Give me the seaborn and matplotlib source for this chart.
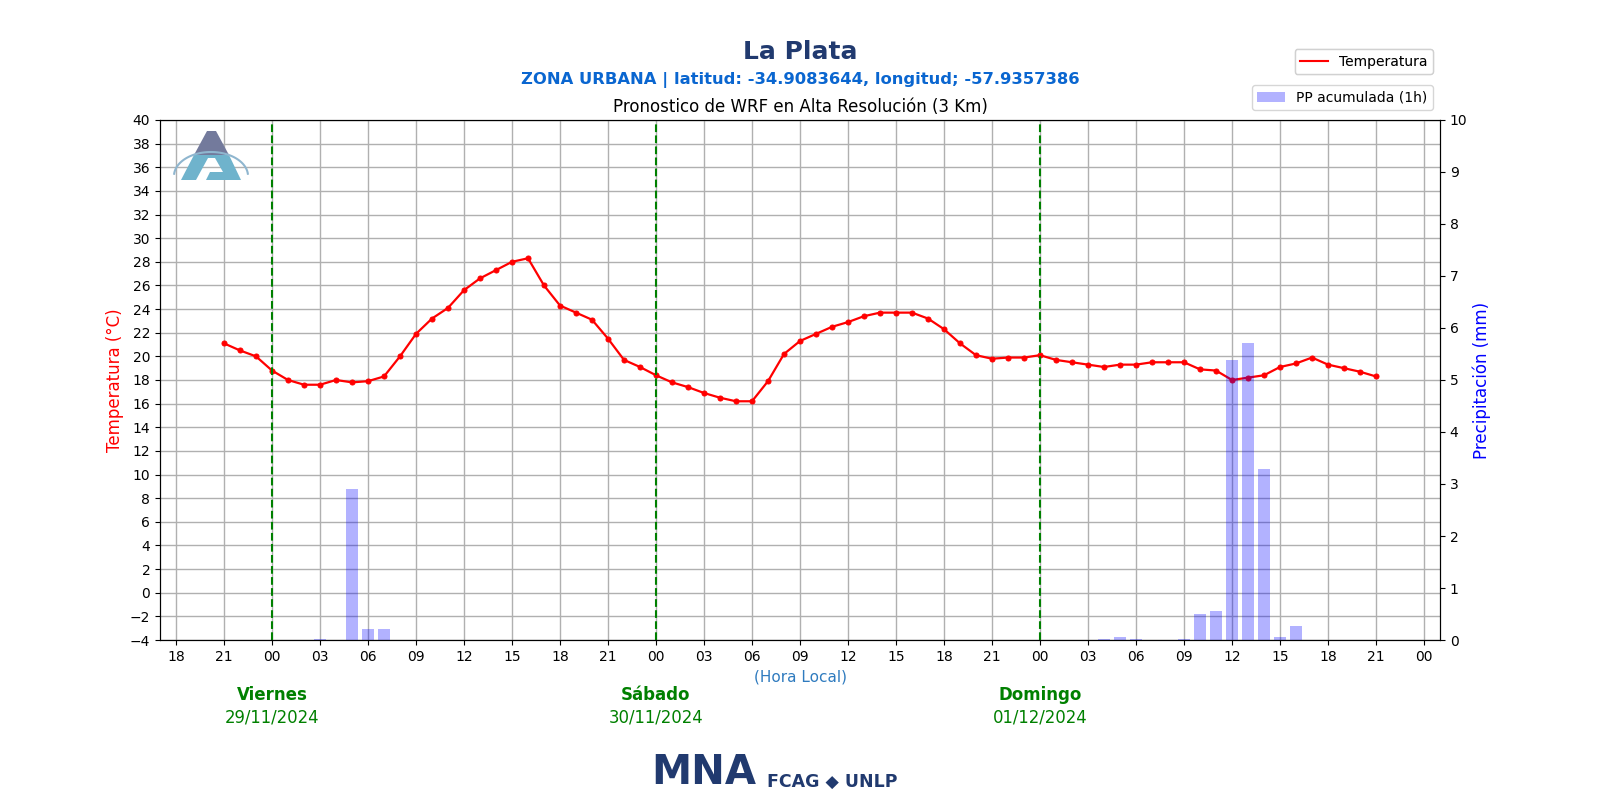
import numpy as np
import pandas as pd
import matplotlib
matplotlib.use("Agg")
import matplotlib.pyplot as plt
from matplotlib.lines import Line2D
from matplotlib.patches import Patch, Polygon
import seaborn as sns

# ---- data (hours relative to Friday 29/11/2024 00:00 local) ----
hours = list(range(-3, 70))
temperature = [
    21.1, 20.5, 20.0,                                   # Thu 21-23
    18.8, 18.0, 17.6, 17.6, 18.0, 17.8, 17.9, 18.3,     # Fri 00-07
    20.0, 21.9, 23.2, 24.1, 25.6, 26.6, 27.3, 28.0,     # Fri 08-15
    28.3, 26.0, 24.3, 23.7, 23.1, 21.5, 19.7, 19.1,     # Fri 16-23
    18.4, 17.8, 17.4, 16.9, 16.5, 16.2, 16.2, 17.9,     # Sat 00-07
    20.2, 21.3, 21.9, 22.5, 22.9, 23.4, 23.7, 23.7,     # Sat 08-15
    23.7, 23.2, 22.3, 21.1, 20.1, 19.8, 19.9, 19.9,     # Sat 16-23
    20.1, 19.7, 19.5, 19.3, 19.1, 19.3, 19.3, 19.5,     # Sun 00-07
    19.5, 19.5, 18.9, 18.8, 18.0, 18.2, 18.4, 19.1,     # Sun 08-15
    19.4, 19.9, 19.3, 19.0, 18.7, 18.3,                 # Sun 16-21
]
precipitation = [
    0, 0, 0,
    0, 0, 0, 0.02, 0, 2.9, 0.21, 0.21,
    0, 0, 0, 0, 0, 0, 0, 0,
    0, 0, 0, 0, 0, 0, 0, 0,
    0, 0, 0, 0, 0, 0, 0, 0,
    0, 0, 0, 0, 0, 0, 0, 0,
    0, 0, 0, 0, 0, 0, 0, 0,
    0, 0, 0, 0, 0.02, 0.05, 0.02, 0,
    0, 0.02, 0.5, 0.56, 5.38, 5.71, 3.29, 0.06,
    0.27, 0, 0, 0, 0, 0,
]
tick_hours = list(range(-6, 73, 3))
tick_labels = ["18", "21"] + ["00", "03", "06", "09", "12", "15", "18", "21"] * 3 + ["00"]
day_hours = [0, 24, 48]
day_names = ["Viernes", "Sábado", "Domingo"]
day_dates = ["29/11/2024", "30/11/2024", "01/12/2024"]

title_main = "La Plata"
title_sub = "ZONA URBANA | latitud: -34.9083644, longitud; -57.9357386"
title_axes = "Pronostico de WRF en Alta Resolución (3 Km)"

df = pd.DataFrame({"hora": hours, "temp": temperature, "pp": precipitation})

# ---- figure ----
fig = plt.figure(figsize=(16, 8), dpi=100)
ax = fig.add_axes([0.1, 0.2, 0.8, 0.65])
ax2 = ax.twinx()

ax.set_zorder(1)
ax.patch.set_visible(False)
ax2.set_zorder(2)

sns.lineplot(data=df, x="hora", y="temp", ax=ax, color="red", linewidth=1.6,
             marker="o", markersize=3.6, markeredgecolor="red", legend=False)
ax2.bar(df["hora"], df["pp"], width=0.75, color="blue", alpha=0.3, zorder=2)

for d in day_hours:
    ax.axvline(d, color="green", linestyle="--", linewidth=1.5, zorder=3)

ax.set_xlim(-7, 73)
ax.set_ylim(-4, 40)
ax.set_yticks(np.arange(-4, 41, 2))
ax.set_xticks(tick_hours)
ax.set_xticklabels(tick_labels, fontsize=10)
ax.tick_params(axis="y", labelsize=10)
ax.grid(True, color="#b0b0b0", linewidth=1)
ax.set_axisbelow(True)

ax2.set_ylim(0, 10)
ax2.set_yticks(range(0, 11))
ax2.tick_params(axis="y", labelsize=10)
ax2.set_ylabel("Precipitación (mm)", color="blue", fontsize=12)
ax.set_ylabel("Temperatura (°C)", color="red", fontsize=12)
ax.set_xlabel("(Hora Local)", color="#2f7bbf", fontsize=11, labelpad=4)

ax.set_title(title_axes, fontsize=12, pad=6)
fig.text(0.5, 1 - 52 / 800, title_main, ha="center", va="center",
         fontsize=18, fontweight="bold", color="#213a6f")
fig.text(0.5, 1 - 80 / 800, title_sub, ha="center", va="center",
         fontsize=11.8, fontweight="bold", color="#0a66d0")

tr = ax.get_xaxis_transform()
for d, n, dt in zip(day_hours, day_names, day_dates):
    ax.text(d, -0.106, n, transform=tr, ha="center", va="center",
            fontsize=12, fontweight="bold", color="green", clip_on=False)
    ax.text(d, -0.15, dt, transform=tr, ha="center", va="center",
            fontsize=11.9, color="green", clip_on=False)

# legends
leg1 = fig.legend(handles=[Line2D([0], [0], color="red", linewidth=1.5)],
                  labels=["Temperatura"], loc="upper right",
                  bbox_to_anchor=(1433 / 1600, 1 - 49 / 800),
                  bbox_transform=fig.transFigure, borderaxespad=0, fontsize=10)
fig.legend(handles=[Patch(facecolor="blue", alpha=0.3)],
           labels=["PP acumulada (1h)"], loc="upper right",
           bbox_to_anchor=(1433 / 1600, 1 - 85 / 800),
           bbox_transform=fig.transFigure, borderaxespad=0, fontsize=10)
fig.add_artist(leg1)

# ---- logos (approximations) ----
def fpoly(pts, color, z=5):
    p = Polygon([(x / 1600, 1 - y / 800) for x, y in pts], closed=True,
                facecolor=color, edgecolor="none", transform=fig.transFigure, zorder=z)
    fig.add_artist(p)

# top-left "A" logo
fpoly([(207, 131), (216, 131), (229, 155), (194, 155)], "#737a9c")
fpoly([(194, 155), (229, 155), (241, 180), (206, 180), (210, 172), (223, 172),
       (215, 158), (208, 158), (196, 180), (181, 180)], "#6fb3cc")
arc_t = np.linspace(np.pi * 0.97, np.pi * 0.03, 60)
ax_arc_x = 211 + 37 * np.cos(arc_t)
ax_arc_y = 176 - 24 * np.sin(arc_t)
fig.add_artist(Line2D(ax_arc_x / 1600, 1 - ax_arc_y / 800, color="#8fb6cf",
                      linewidth=1.5, transform=fig.transFigure, zorder=6))

# bottom "MNA FCAG ◆ UNLP" logo
fig.text(651 / 1600, 1 - 773 / 800, "MNA", ha="left", va="center", fontsize=29,
         fontweight="heavy", color="#213a6f", family="DejaVu Sans")
fig.text(767 / 1600, 1 - 782 / 800, "FCAG ◆ UNLP", ha="left", va="center", fontsize=12.5,
         fontweight="bold", color="#213a6f", family="DejaVu Sans")

fig.savefig("out.png", dpi=100)
